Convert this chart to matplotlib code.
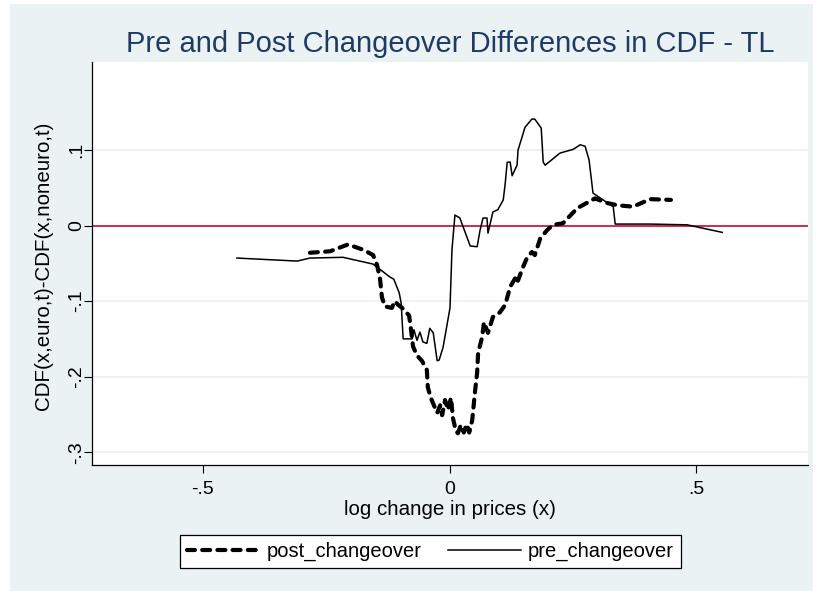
import matplotlib
matplotlib.use('Agg')
import matplotlib.pyplot as plt
from matplotlib.patches import Rectangle
from matplotlib.lines import Line2D

# ---- data ----
pre_x = [-0.431, -0.309, -0.283, -0.216, -0.155, -0.141, -0.121, -0.113, -0.102, -0.098,
         -0.094, -0.076, -0.072, -0.066, -0.060, -0.054, -0.046, -0.040, -0.033, -0.025,
         -0.021, -0.013, 0.001, 0.005, 0.011, 0.021, 0.042, 0.056, 0.062, 0.068,
         0.076, 0.078, 0.088, 0.098, 0.109, 0.113, 0.117, 0.123, 0.127, 0.137,
         0.139, 0.147, 0.153, 0.167, 0.173, 0.186, 0.190, 0.194, 0.224, 0.251,
         0.265, 0.275, 0.283, 0.291, 0.332, 0.336, 0.407, 0.482, 0.553]
pre_y = [-0.043, -0.047, -0.043, -0.042, -0.051, -0.058, -0.068, -0.071, -0.089, -0.103,
         -0.150, -0.150, -0.138, -0.152, -0.141, -0.154, -0.156, -0.136, -0.142, -0.179,
         -0.178, -0.161, -0.109, -0.032, 0.014, 0.010, -0.027, -0.028, -0.006, 0.010,
         0.010, -0.010, 0.018, 0.021, 0.034, 0.056, 0.084, 0.084, 0.066, 0.080,
         0.100, 0.117, 0.130, 0.141, 0.141, 0.129, 0.084, 0.080, 0.096, 0.101,
         0.107, 0.105, 0.087, 0.043, 0.025, 0.002, 0.002, 0.001, -0.009]

post_x = [-0.283, -0.242, -0.206, -0.175, -0.155, -0.147, -0.141, -0.137, -0.131, -0.117,
          -0.111, -0.104, -0.096, -0.082, -0.078, -0.074, -0.066, -0.056, -0.046, -0.044,
          -0.038, -0.025, -0.019, -0.015, -0.009, -0.003, 0.003, 0.007, 0.013, 0.017,
          0.023, 0.029, 0.035, 0.040, 0.046, 0.052, 0.056, 0.058, 0.066, 0.070,
          0.078, 0.088, 0.102, 0.113, 0.123, 0.133, 0.137, 0.149, 0.157, 0.167,
          0.173, 0.184, 0.198, 0.210, 0.230, 0.259, 0.295, 0.319, 0.340, 0.372,
          0.407, 0.449]
post_y = [-0.036, -0.034, -0.025, -0.032, -0.039, -0.052, -0.070, -0.095, -0.107, -0.109,
          -0.100, -0.105, -0.109, -0.119, -0.138, -0.160, -0.172, -0.179, -0.191, -0.214,
          -0.228, -0.248, -0.238, -0.251, -0.231, -0.244, -0.228, -0.255, -0.272, -0.275,
          -0.264, -0.274, -0.263, -0.274, -0.258, -0.218, -0.195, -0.169, -0.148, -0.128,
          -0.142, -0.121, -0.115, -0.105, -0.081, -0.070, -0.076, -0.055, -0.043, -0.035,
          -0.039, -0.017, -0.006, 0.001, 0.003, 0.023, 0.036, 0.030, 0.027, 0.025,
          0.035, 0.034]

x_ticks = [-0.5, 0.0, 0.5]
x_tick_labels = ['-.5', '0', '.5']
y_ticks = [-0.3, -0.2, -0.1, 0.0, 0.1]
y_tick_labels = ['-.3', '-.2', '-.1', '0', '.1']
series_names = ['post_changeover', 'pre_changeover']

title = 'Pre and Post Changeover Differences in CDF - TL'
x_label = 'log change in prices (x)'
y_label = 'CDF(x,euro,t)-CDF(x,noneuro,t)'

# ---- styling ----
plt.rcParams['font.family'] = ['Liberation Sans', 'DejaVu Sans']
BG = '#EAF2F3'
W, H = 818, 591
DASH = (1.9, 1.75)
fig = plt.figure(figsize=(W / 100, H / 100), dpi=100, facecolor='white')
fig.patches.append(Rectangle((10 / W, 0), (813 - 10) / W, (591 - 4) / H,
                             transform=fig.transFigure, facecolor=BG,
                             edgecolor='none', zorder=-10))

ax = fig.add_axes([92 / W, 1 - 465 / H, 716 / W, 403 / H])
ax.set_zorder(1)
ax.set_facecolor('white')
ax.set_xlim(-0.725, 0.727)
ax.set_ylim(-0.317, 0.2166)

for yt in y_ticks:
    if yt != 0:
        ax.axhline(yt, color=BG, lw=1.3, zorder=1)
ax.axhline(0, color='#C41E4A', lw=1.3, zorder=2)

ax.plot(post_x, post_y, color='black', lw=3.0, dashes=DASH,
        dash_capstyle='round', solid_joinstyle='round', zorder=3)
ax.plot(pre_x, pre_y, color='black', lw=1.1, zorder=4)

for s in ['top', 'right']:
    ax.spines[s].set_visible(False)
for s in ['left', 'bottom']:
    ax.spines[s].set_color('black')
    ax.spines[s].set_linewidth(0.9)

ax.set_xticks(x_ticks)
ax.set_xticklabels(x_tick_labels, fontsize=14)
ax.set_yticks(y_ticks)
ax.set_yticklabels(y_tick_labels, fontsize=14, rotation=90, va='center')
ax.tick_params(axis='x', direction='out', length=5.8, width=0.8, pad=5.5)
ax.tick_params(axis='y', direction='out', length=5.8, width=0.8, pad=-1)

fig.text(450 / W, 1 - 52 / H, title, ha='center', va='baseline',
         fontsize=21, color='#1F3B63')
fig.text(449.5 / W, 1 - 515 / H, x_label, ha='center', va='baseline', fontsize=14.8)
fig.text(44 / W, 1 - 266 / H, y_label, ha='center', va='center',
         rotation=90, fontsize=14.8)

handles = [Line2D([], [], color='black', lw=3.0, dashes=DASH, dash_capstyle='round'),
           Line2D([], [], color='black', lw=1.1)]
leg = fig.legend(handles, series_names, loc='center',
                 bbox_to_anchor=(430.5 / W, 1 - 551.5 / H), ncol=2,
                 fontsize=14.5, frameon=True, fancybox=False, handlelength=3.6,
                 handletextpad=0.35, columnspacing=1.3, borderpad=0.35)
leg.get_frame().set_edgecolor('black')
leg.get_frame().set_linewidth(0.9)
leg.get_frame().set_facecolor('white')
leg.get_frame().set_alpha(1)

fig.savefig('out.png', dpi=100, facecolor='white')
